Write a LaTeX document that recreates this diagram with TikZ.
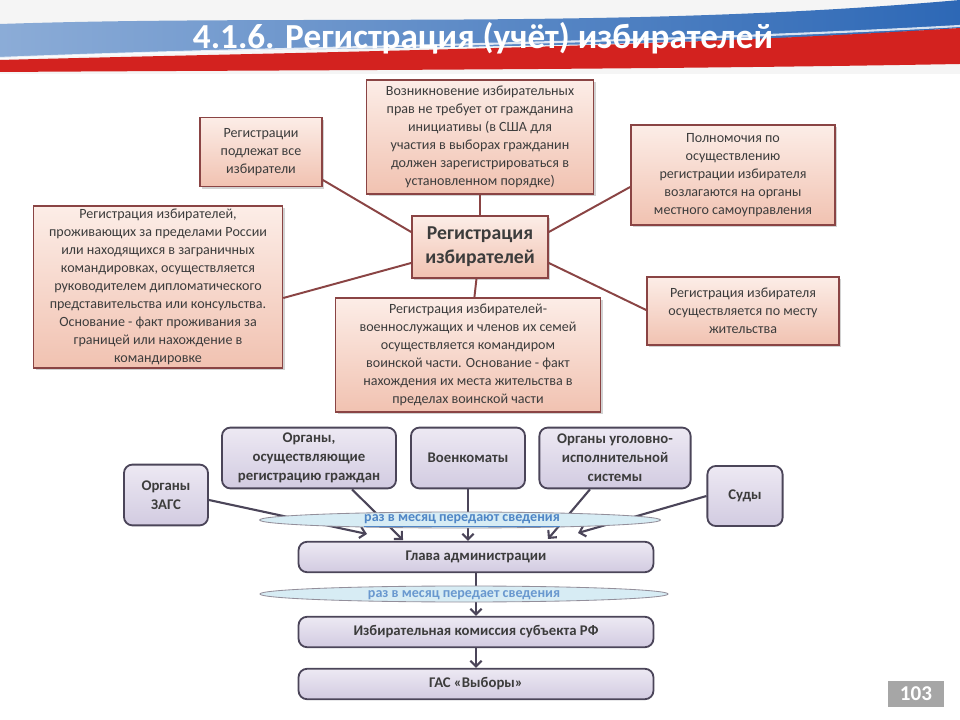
\documentclass[tikz,border=0pt]{standalone}
\usepackage{fontspec}
\setmainfont{Carlito}
\usetikzlibrary{arrows.meta,shapes.geometric,shadows}
\definecolor{pinkline}{HTML}{8A4444}
\definecolor{pinktop}{HTML}{FCEDE7}
\definecolor{pinkbot}{HTML}{F1C2B1}
\definecolor{lilline}{HTML}{4B4559}
\definecolor{liltop}{HTML}{EDE9F3}
\definecolor{lilbot}{HTML}{D2CBE1}
\definecolor{ovalfill}{HTML}{D7ECF4}
\definecolor{ovaltext}{HTML}{4F86C6}
\definecolor{flagblue}{HTML}{2D68B6}
\definecolor{flagred}{HTML}{D3221F}
\definecolor{textgray}{HTML}{3C3C3C}
\begin{document}
\begin{tikzpicture}[x=0.025cm, y=-0.025cm,
    pinkbox/.style={draw=pinkline, line width=1.2pt, top color=pinktop, bottom color=pinkbot,
        align=center, inner sep=2pt, font=\fontsize{10}{12.8}\selectfont, text=textgray,
        drop shadow={shadow xshift=1.5pt, shadow yshift=-1.5pt, fill=black!35}},
    pinkedge/.style={draw=pinkline, line width=1.4pt},
    lilbox/.style={draw=lilline, line width=1.3pt, rounded corners=6pt, top color=liltop, bottom color=lilbot,
        align=center, inner sep=2pt, font=\fontsize{10.5}{13.5}\selectfont\bfseries, text=textgray},
    liledge/.style={draw=lilline, line width=1.5pt, -{Straight Barb[length=4pt, width=8pt, line width=1.5pt]}},
    oval/.style={ellipse, draw=lilline!60, line width=0.6pt, fill=ovalfill, inner sep=0pt}]
    \useasboundingbox (0,0) rectangle (960,720);

    % Header
    \fill[black!4] (0,0) rectangle (960,74);
    \shade[left color=flagblue!55, right color=flagblue] (0,24) .. controls (300,14) and (620,30) .. (960,0)
        -- (960,28) .. controls (620,52) and (300,44) .. (0,58) -- cycle;
    \fill[flagred] (0,60) .. controls (300,52) and (650,48) .. (960,28)
        -- (960,64) .. controls (620,70) and (300,70) .. (0,72) -- cycle;
    \draw[white, line width=1.5pt, opacity=0.8] (0,58) .. controls (300,46) and (640,44) .. (960,26);
    \node[text=white, font=\fontsize{25}{30}\selectfont\bfseries] (title) at (483,38) {4.1.6. Регистрация (учёт) избирателей};

    % Draw nodes
    \node[pinkbox, minimum width=3.05cm, minimum height=1.72cm] (all) at (261,152)
        {Регистрации\\подлежат все\\избиратели};
    \node[pinkbox, minimum width=5.67cm, minimum height=2.85cm] (rights) at (480,137)
        {Возникновение избирательных\\прав не требует от гражданина\\инициативы (в США для\\участия в выборах гражданин\\должен зарегистрироваться в\\установленном порядке)};
    \node[pinkbox, minimum width=5.1cm, minimum height=2.5cm] (local) at (733,175)
        {Полномочия по\\осуществлению\\регистрации избирателя\\возлагаются на органы\\местного самоуправления};
    \node[pinkbox, minimum width=6.22cm, minimum height=3.97cm] (abroad) at (158,287)
        {Регистрация избирателей,\\проживающих за пределами России\\или находящихся в заграничных\\командировках, осуществляется\\руководителем дипломатического\\представительства или консульства.\\Основание - факт проживания за\\границей или нахождение в\\командировке};
    \node[pinkbox, minimum width=4.8cm, minimum height=1.7cm] (home) at (743,311)
        {Регистрация избирателя\\осуществляется по месту\\жительства};
    \node[pinkbox, minimum width=6.62cm, minimum height=2.85cm] (army) at (468,355)
        {Регистрация избирателей-\\военнослужащих и членов их семей\\осуществляется командиром\\воинской части. Основание - факт\\нахождения их места жительства в\\пределах воинской части};
    \node[pinkbox, minimum width=3.4cm, minimum height=1.55cm, font=\fontsize{14}{17}\selectfont\bfseries] (center) at (480,247)
        {Регистрация\\избирателей};

    \node[lilbox, minimum width=2.1cm, minimum height=1.52cm] (zags) at (166,495) {Органы\\ЗАГС};
    \node[lilbox, minimum width=4.35cm, minimum height=1.52cm] (organy) at (309,458) {Органы,\\осуществляющие\\регистрацию граждан};
    \node[lilbox, minimum width=2.85cm, minimum height=1.52cm] (voenkom) at (468,458) {Военкоматы};
    \node[lilbox, minimum width=3.78cm, minimum height=1.52cm] (uis) at (615,458) {Органы уголовно-\\исполнительной\\системы};
    \node[lilbox, minimum width=1.88cm, minimum height=1.5cm] (sudy) at (745,496) {Суды};
    \node[lilbox, minimum width=8.87cm, minimum height=0.76cm] (glava) at (476,557) {Глава администрации};
    \node[lilbox, minimum width=8.87cm, minimum height=0.76cm] (izbkom) at (476,632) {Избирательная комиссия субъекта РФ};
    \node[lilbox, minimum width=8.87cm, minimum height=0.76cm] (gas) at (476,684) {ГАС «Выборы»};

    \coordinate (tzags) at (367,534);
    \coordinate (torg) at (403,540);
    \coordinate (tuis) at (548,539);
    \coordinate (tsud) at (578,533);

    % Draw edges
    \draw[pinkedge] (all.east |- 0,180) -- (center.west |- 0,232);
    \draw[pinkedge] (abroad.east |- 0,298) -- (center.west |- 0,263);
    \draw[pinkedge] (rights) -- (center);
    \draw[pinkedge] (local.west |- 0,187) -- (center.east |- 0,232);
    \draw[pinkedge] (center.east |- 0,263) -- (home.west |- 0,310);
    \draw[pinkedge] (center) -- (army);

    \draw[liledge] (zags.east |- 0,500) -- (tzags);
    \draw[liledge] (organy.south -| 352,0) -- (torg);
    \draw[liledge] (voenkom.south) -- (glava.north -| voenkom.south);
    \draw[liledge] (uis.south -| 590,0) -- (tuis);
    \draw[liledge] (sudy.west) -- (tsud);
    \draw[liledge] (glava) -- (izbkom);
    \draw[liledge] (izbkom) -- (gas);

    % Ovals
    \node[oval, minimum width=10.02cm, minimum height=0.4cm] (oval1) at (460,520) {};
    \node[text=ovaltext, font=\fontsize{10}{12}\selectfont\bfseries] (note1) at (462,521) {\underline{раз в месяц передают сведения}};
    \node[oval, minimum width=10.2cm, minimum height=0.4cm] (oval2) at (464,594) {};
    \node[text=ovaltext!85, font=\fontsize{10}{12}\selectfont\bfseries] (note2) at (464,595) {раз в месяц передает сведения};

    % Page number
    \node[fill=black!35, text=white, minimum width=1.38cm, minimum height=0.65cm, inner sep=0pt,
        font=\fontsize{15}{18}\selectfont\bfseries] (page) at (916,694) {103};
\end{tikzpicture}
\end{document}
